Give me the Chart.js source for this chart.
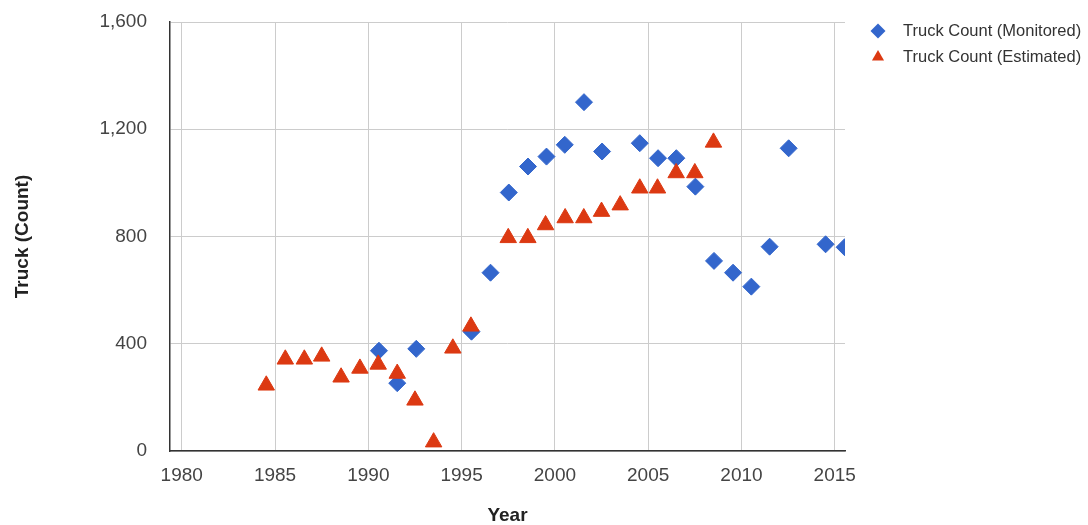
<!DOCTYPE html>
<html>
<head>
<meta charset="utf-8">
<script src="https://cdn.jsdelivr.net/npm/chart.js@4/dist/chart.umd.min.js"></script>
<style>
  body { margin: 0; background: #fff; }
</style>
</head>
<body>
<canvas id="truck-chart" width="1088" height="525"></canvas>
<script>
// values
const monitoredYears = [1990.57, 1991.55, 1992.57, 1995.53, 1996.55, 1997.53, 1998.56, 1999.55, 2000.53, 2001.56, 2002.53,
  2004.55, 2005.53, 2006.51, 2007.53, 2008.53, 2009.55, 2010.53, 2011.51, 2012.53, 2014.51, 2015.53]
const monitoredCounts = [374, 253, 381, 445, 665, 964, 1061, 1098, 1142, 1301, 1117,
  1148, 1092, 1092, 986, 709, 665, 613, 762, 1129, 771, 760]

const estimatedYears = [1984.53, 1985.55, 1986.57, 1987.5, 1988.54, 1989.55, 1990.53, 1991.55, 1992.5, 1993.5, 1994.53,
  1995.5, 1997.5, 1998.55, 1999.5, 2000.55, 2001.55, 2002.5, 2003.5, 2004.55, 2005.5, 2006.5, 2007.5, 2008.5]
const estimatedCounts = [245, 342, 342, 353, 275, 308, 323, 289, 189, 33, 383,
  465, 795, 795, 843, 869, 869, 893, 917, 980, 980, 1037, 1037, 1151]

const xTickYears = [1980, 1985, 1990, 1995, 2000, 2005, 2010, 2015]
const yTickValues = [0, 400, 800, 1200, 1600]

const seriesNames = ['Truck Count (Monitored)', 'Truck Count (Estimated)']
const blue = '#3366cc'
const red = '#dc3912'

const toPoints = (xs, ys) => xs.map((x, i) => ({ x: x, y: ys[i] }))

// small legend in the top right corner, like the google chart one
const sideLegend = {
  id: 'sideLegend',
  afterDraw (chart) {
    const ctx = chart.ctx
    ctx.save()
    ctx.font = '16.5px "Liberation Sans", Arial, sans-serif'
    ctx.textBaseline = 'middle'
    const rows = [31, 57]
    chart.data.datasets.forEach((ds, i) => {
      const y = rows[i]
      const cx = 878
      ctx.beginPath()
      if (ds.pointStyle === 'rectRot') {
        const r = 7.5
        ctx.moveTo(cx - r, y)
        ctx.lineTo(cx, y - r)
        ctx.lineTo(cx + r, y)
        ctx.lineTo(cx, y + r)
      } else {
        const r = 7
        ctx.moveTo(cx, y - r)
        ctx.lineTo(cx + r * 0.866, y + r / 2)
        ctx.lineTo(cx - r * 0.866, y + r / 2)
      }
      ctx.closePath()
      ctx.fillStyle = ds.backgroundColor
      ctx.fill()
      ctx.fillStyle = '#333'
      ctx.fillText(ds.label, 903, y)
    })
    ctx.restore()
  }
}

const tickFont = { family: '"Liberation Sans", Arial, sans-serif', size: 19 }
const titleFont = { family: '"Liberation Sans", Arial, sans-serif', size: 19, weight: 'bold', lineHeight: 1 }

const chart = new Chart(document.getElementById('truck-chart').getContext('2d'), {
  type: 'scatter',
  data: {
    datasets: [
      {
        label: seriesNames[0],
        data: toPoints(monitoredYears, monitoredCounts),
        pointStyle: 'rectRot',
        radius: 8.5,
        hoverRadius: 8.5,
        borderWidth: 1,
        backgroundColor: blue,
        borderColor: blue,
        order: 1
      },
      {
        label: seriesNames[1],
        data: toPoints(estimatedYears, estimatedCounts),
        pointStyle: 'triangle',
        radius: 9.5,
        hoverRadius: 9.5,
        borderWidth: 1,
        backgroundColor: red,
        borderColor: red,
        order: 0
      }
    ]
  },
  options: {
    responsive: false,
    animation: false,
    layout: { padding: { left: 0, right: 243, top: 22, bottom: 0 } },
    scales: {
      x: {
        type: 'linear',
        min: 1979.37,
        max: 2015.55,
        afterBuildTicks (scale) { scale.ticks = xTickYears.map(v => ({ value: v })) },
        afterFit (scale) { scale.height = 74 },
        ticks: { color: '#444', font: tickFont, padding: 13, maxRotation: 0, callback: v => String(v) },
        grid: { color: '#ccc', drawTicks: false },
        border: { color: '#333', width: 1.5 },
        title: { display: true, text: 'Year', color: '#222', font: titleFont, padding: 0 }
      },
      y: {
        type: 'linear',
        min: 0,
        max: 1600,
        afterBuildTicks (scale) { scale.ticks = yTickValues.map(v => ({ value: v })) },
        afterFit (scale) {
          scale.width = 170
          scale.paddingTop = 0
          scale.paddingBottom = 0
        },
        ticks: { color: '#444', font: tickFont, padding: 23, callback: v => v.toLocaleString('en-US') },
        grid: { color: '#ccc', drawTicks: false },
        border: { color: '#333', width: 1.5 },
        title: { display: true, text: 'Truck (Count)', color: '#222', font: titleFont, padding: { top: 13, bottom: 0 } }
      }
    },
    plugins: {
      legend: { display: false },
      tooltip: { enabled: false }
    }
  },
  plugins: [sideLegend]
})
</script>
</body>
</html>
